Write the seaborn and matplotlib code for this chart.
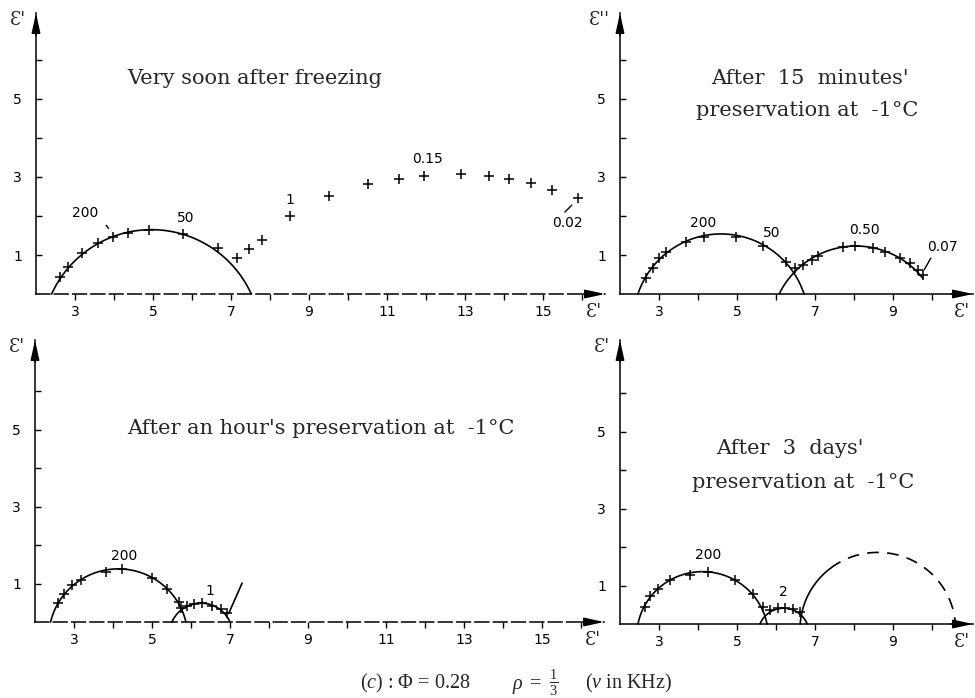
import numpy as np
import pandas as pd
import seaborn as sns
import matplotlib.pyplot as plt

sns.set_theme(style="white")
plt.rcParams['font.family'] = ['DejaVu Sans']
plt.rcParams['mathtext.fontset'] = 'custom'
plt.rcParams['mathtext.rm'] = 'Liberation Serif'
plt.rcParams['mathtext.it'] = 'Liberation Serif:italic'
plt.rcParams['mathtext.bf'] = 'Liberation Serif:bold'

# ---------------- data ----------------
# Panel 1 : very soon after freezing
p1_x = [2.62, 2.82, 3.18, 3.59, 3.97, 4.36, 4.90, 5.77, 6.67, 7.15, 7.46, 7.79, 8.51,
        9.52, 10.51, 11.31, 11.95, 12.90, 13.62, 14.13, 14.69, 15.23, 15.90]
p1_y = [0.44, 0.69, 1.05, 1.31, 1.46, 1.56, 1.64, 1.54, 1.18, 0.92, 1.15, 1.38, 2.00,
        2.51, 2.82, 2.95, 3.03, 3.08, 3.03, 2.95, 2.85, 2.67, 2.46]
# arcs: left foot, right foot, height, draw-from, draw-to, style
p1_arcs = [(2.40, 7.52, 1.65, 2.40, 7.52, '-')]
p1_labels = [("200", 3.25, 2.08), ("50", 5.85, 1.95), ("1", 8.51, 2.42),
             ("0.15", 12.05, 3.45), ("0.02", 15.62, 1.83)]
p1_leaders = [((15.56, 15.74), (2.10, 2.28)), ((3.80, 3.86), (1.76, 1.68))]

# Panel 2 : after 15 minutes' preservation
p2_x = [2.67, 2.85, 3.00, 3.18, 3.69, 4.15, 4.97, 5.67, 6.26,
        6.49, 6.69, 6.92, 7.08, 7.72, 8.03, 8.49, 8.79, 9.18, 9.44, 9.64, 9.77]
p2_y = [0.41, 0.67, 0.92, 1.08, 1.33, 1.46, 1.46, 1.23, 0.82,
        0.67, 0.74, 0.87, 0.97, 1.20, 1.23, 1.18, 1.08, 0.92, 0.79, 0.62, 0.49]
p2_arcs = [(2.46, 6.72, 1.54, 2.46, 6.72, '-'),
           (6.08, 10.02, 1.23, 6.08, 9.77, '-')]
p2_labels = [("200", 4.13, 1.82), ("50", 5.90, 1.56), ("0.50", 8.28, 1.64),
             ("0.07", 10.28, 1.20)]
p2_leaders = [((9.80, 9.97), (0.62, 0.92))]

# Panel 3 : after an hour's preservation
p3_x = [2.60, 2.75, 2.95, 3.18, 3.82, 4.23, 5.00, 5.38, 5.69,
        5.74, 5.90, 6.08, 6.28, 6.54, 6.77, 6.92]
p3_y = [0.49, 0.74, 0.95, 1.08, 1.31, 1.38, 1.15, 0.87, 0.51,
        0.36, 0.41, 0.46, 0.49, 0.41, 0.33, 0.23]
p3_arcs = [(2.40, 5.87, 1.38, 2.40, 5.87, '-'),
           (5.51, 7.00, 0.49, 5.51, 7.00, '-')]
p3_tail_x = [6.97, 7.31]
p3_tail_y = [0.23, 1.01]
p3_labels = [("200", 4.28, 1.72), ("1", 6.49, 0.80)]

# Panel 4 : after 3 days' preservation
p4_x = [2.64, 2.77, 2.97, 3.28, 3.79, 4.26, 4.95, 5.41, 5.67,
        5.85, 6.05, 6.23, 6.44, 6.62]
p4_y = [0.44, 0.72, 0.90, 1.13, 1.28, 1.36, 1.13, 0.77, 0.44,
        0.36, 0.41, 0.41, 0.38, 0.31]
p4_arcs = [(2.46, 5.77, 1.36, 2.46, 5.77, '-'),
           (5.59, 6.80, 0.41, 5.59, 6.80, '-'),
           (6.62, 10.60, 1.86, 6.62, 7.40, '-'),
           (6.62, 10.60, 1.86, 7.40, 10.60, '--')]
p4_labels = [("200", 4.26, 1.80), ("2", 6.18, 0.82)]

titles = ["Very soon after freezing",
          "After  15  minutes'", "preservation at  -1°C",
          "After an hour's preservation at  -1°C",
          "After  3  days'", "preservation at  -1°C"]
y_names = ["Ɛ'", "Ɛ''", "Ɛ'", "Ɛ'"]
x_name = "Ɛ'"
caption_parts = [r"($\mathit{c}$) : $\mathit{Φ}$ = 0.28",
                 r"$\mathit{ρ}\ =\ \frac{1}{3}$",
                 r"($\mathit{ν}$ in KHz)"]

# ---------------- helpers ----------------
W, H = 975, 698
fig = plt.figure(figsize=(W / 100, H / 100), dpi=100)
serif = ['DejaVu Serif']


def arc_df(left, right, h, x0, x1, n=300):
    c = (left + right) / 2.0
    a = (right - left) / 2.0
    d = (a * a - h * h) / (2.0 * h)
    r = h + d
    x = np.linspace(x0, x1, n)
    y = np.sqrt(np.clip(r * r - (x - c) ** 2, 0, None)) - d
    return pd.DataFrame({"x": x, "y": np.clip(y, 0, None)})


def make_ax(l, r, top, bot, xmax, ymax, yname, dashed=False):
    ax = fig.add_axes([l / W, (H - bot) / H, (r - l) / W, (bot - top) / H])
    ax.set_xlim(2, xmax)
    ax.set_ylim(0, ymax)
    ax.set_facecolor('white')
    for s in ['top', 'right']:
        ax.spines[s].set_visible(False)
    for s in ['left', 'bottom']:
        ax.spines[s].set_color('black')
        ax.spines[s].set_linewidth(1.1)
    if dashed:
        ax.spines['bottom'].set_linestyle((0, (9, 3)))
    xt = list(range(3, int(np.floor(xmax - 0.3)) + 1))
    ax.set_xticks(xt)
    ax.set_xticklabels([str(t) if t % 2 == 1 else '' for t in xt])
    yt = [1, 2, 3, 4, 5, 6]
    ax.set_yticks(yt)
    ax.set_yticklabels([str(t) if t % 2 == 1 else '' for t in yt])
    ax.tick_params(axis='x', direction='out', length=4, width=1, pad=4,
                   labelsize=10, colors='black', bottom=True)
    ax.tick_params(axis='y', direction='in', length=4, width=1, pad=10,
                   labelsize=10, colors='black', left=True)
    ax.grid(False)
    ap = dict(arrowstyle='-|>,head_length=1.0,head_width=0.22', color='black',
              lw=1.1, shrinkA=0, shrinkB=0)
    ax.annotate('', xy=(1, 0), xycoords='axes fraction', xytext=(-16, 0),
                textcoords='offset points', arrowprops=ap, annotation_clip=False)
    ax.annotate('', xy=(0, 1), xycoords='axes fraction', xytext=(0, -16),
                textcoords='offset points', arrowprops=ap, annotation_clip=False)
    ax.annotate(yname, xy=(0, 1), xycoords='axes fraction', xytext=(-7, -5),
                textcoords='offset points', ha='right', va='center', fontsize=13,
                family=serif)
    ax.annotate(x_name, xy=(1, 0), xycoords='axes fraction', xytext=(-8, -13),
                textcoords='offset points', ha='center', va='center', fontsize=13,
                family=serif)
    return ax


def draw(ax, xs, ys, arcs, labels, leaders=()):
    for (lf, rf, h, x0, x1, ls) in arcs:
        df = arc_df(lf, rf, h, x0, x1)
        ax.plot(df.x, df.y, color='black', lw=1.2,
                linestyle=(0, (7, 5)) if ls == '--' else '-', clip_on=False)
    pts = pd.DataFrame({"x": xs, "y": ys})
    sns.scatterplot(data=pts, x="x", y="y", marker='+', s=45, color='black',
                    linewidth=1.1, ax=ax, clip_on=False, zorder=3)
    for (t, x, y) in labels:
        ax.text(x, y, t, ha='center', va='center', fontsize=10, color='black')
    for (lx, ly) in leaders:
        ax.plot(lx, ly, color='black', lw=1.0)
    ax.set_xlabel('')
    ax.set_ylabel('')


# ---------------- panels ----------------
ax1 = make_ax(36, 605, 13, 294, 2 + 569 / 39, 281 / 39, y_names[0], dashed=True)
draw(ax1, p1_x, p1_y, p1_arcs, p1_labels, p1_leaders)

ax2 = make_ax(620, 973, 13, 294, 2 + 353 / 39, 281 / 39, y_names[1])
draw(ax2, p2_x, p2_y, p2_arcs, p2_labels, p2_leaders)

ax3 = make_ax(35, 604, 340, 622, 2 + 569 / 39, 282 / 38.5, y_names[2], dashed=True)
draw(ax3, p3_x, p3_y, p3_arcs, p3_labels)
sns.lineplot(x=p3_tail_x, y=p3_tail_y, color='black', lw=1.2, ax=ax3, sort=False)
ax3.set_xlabel('')
ax3.set_ylabel('')

ax4 = make_ax(620, 973, 340, 624, 2 + 353 / 39, 284 / 38.5, y_names[3])
draw(ax4, p4_x, p4_y, p4_arcs, p4_labels)

# ---------------- titles and caption ----------------
tpos = [(255, 79), (810, 79), (807, 110), (321, 428), (790, 448), (803, 482)]
for t, (px, py) in zip(titles, tpos):
    fig.text(px / W, 1 - py / H, t, ha='center', va='center', fontsize=15,
             family=serif)
for t, px in zip(caption_parts, [415, 535, 629]):
    fig.text(px / W, 1 - 683 / H, t, ha='center', va='center', fontsize=14.5,
             family=['Liberation Serif'])

fig.savefig("out.png", dpi=100, facecolor='white')
